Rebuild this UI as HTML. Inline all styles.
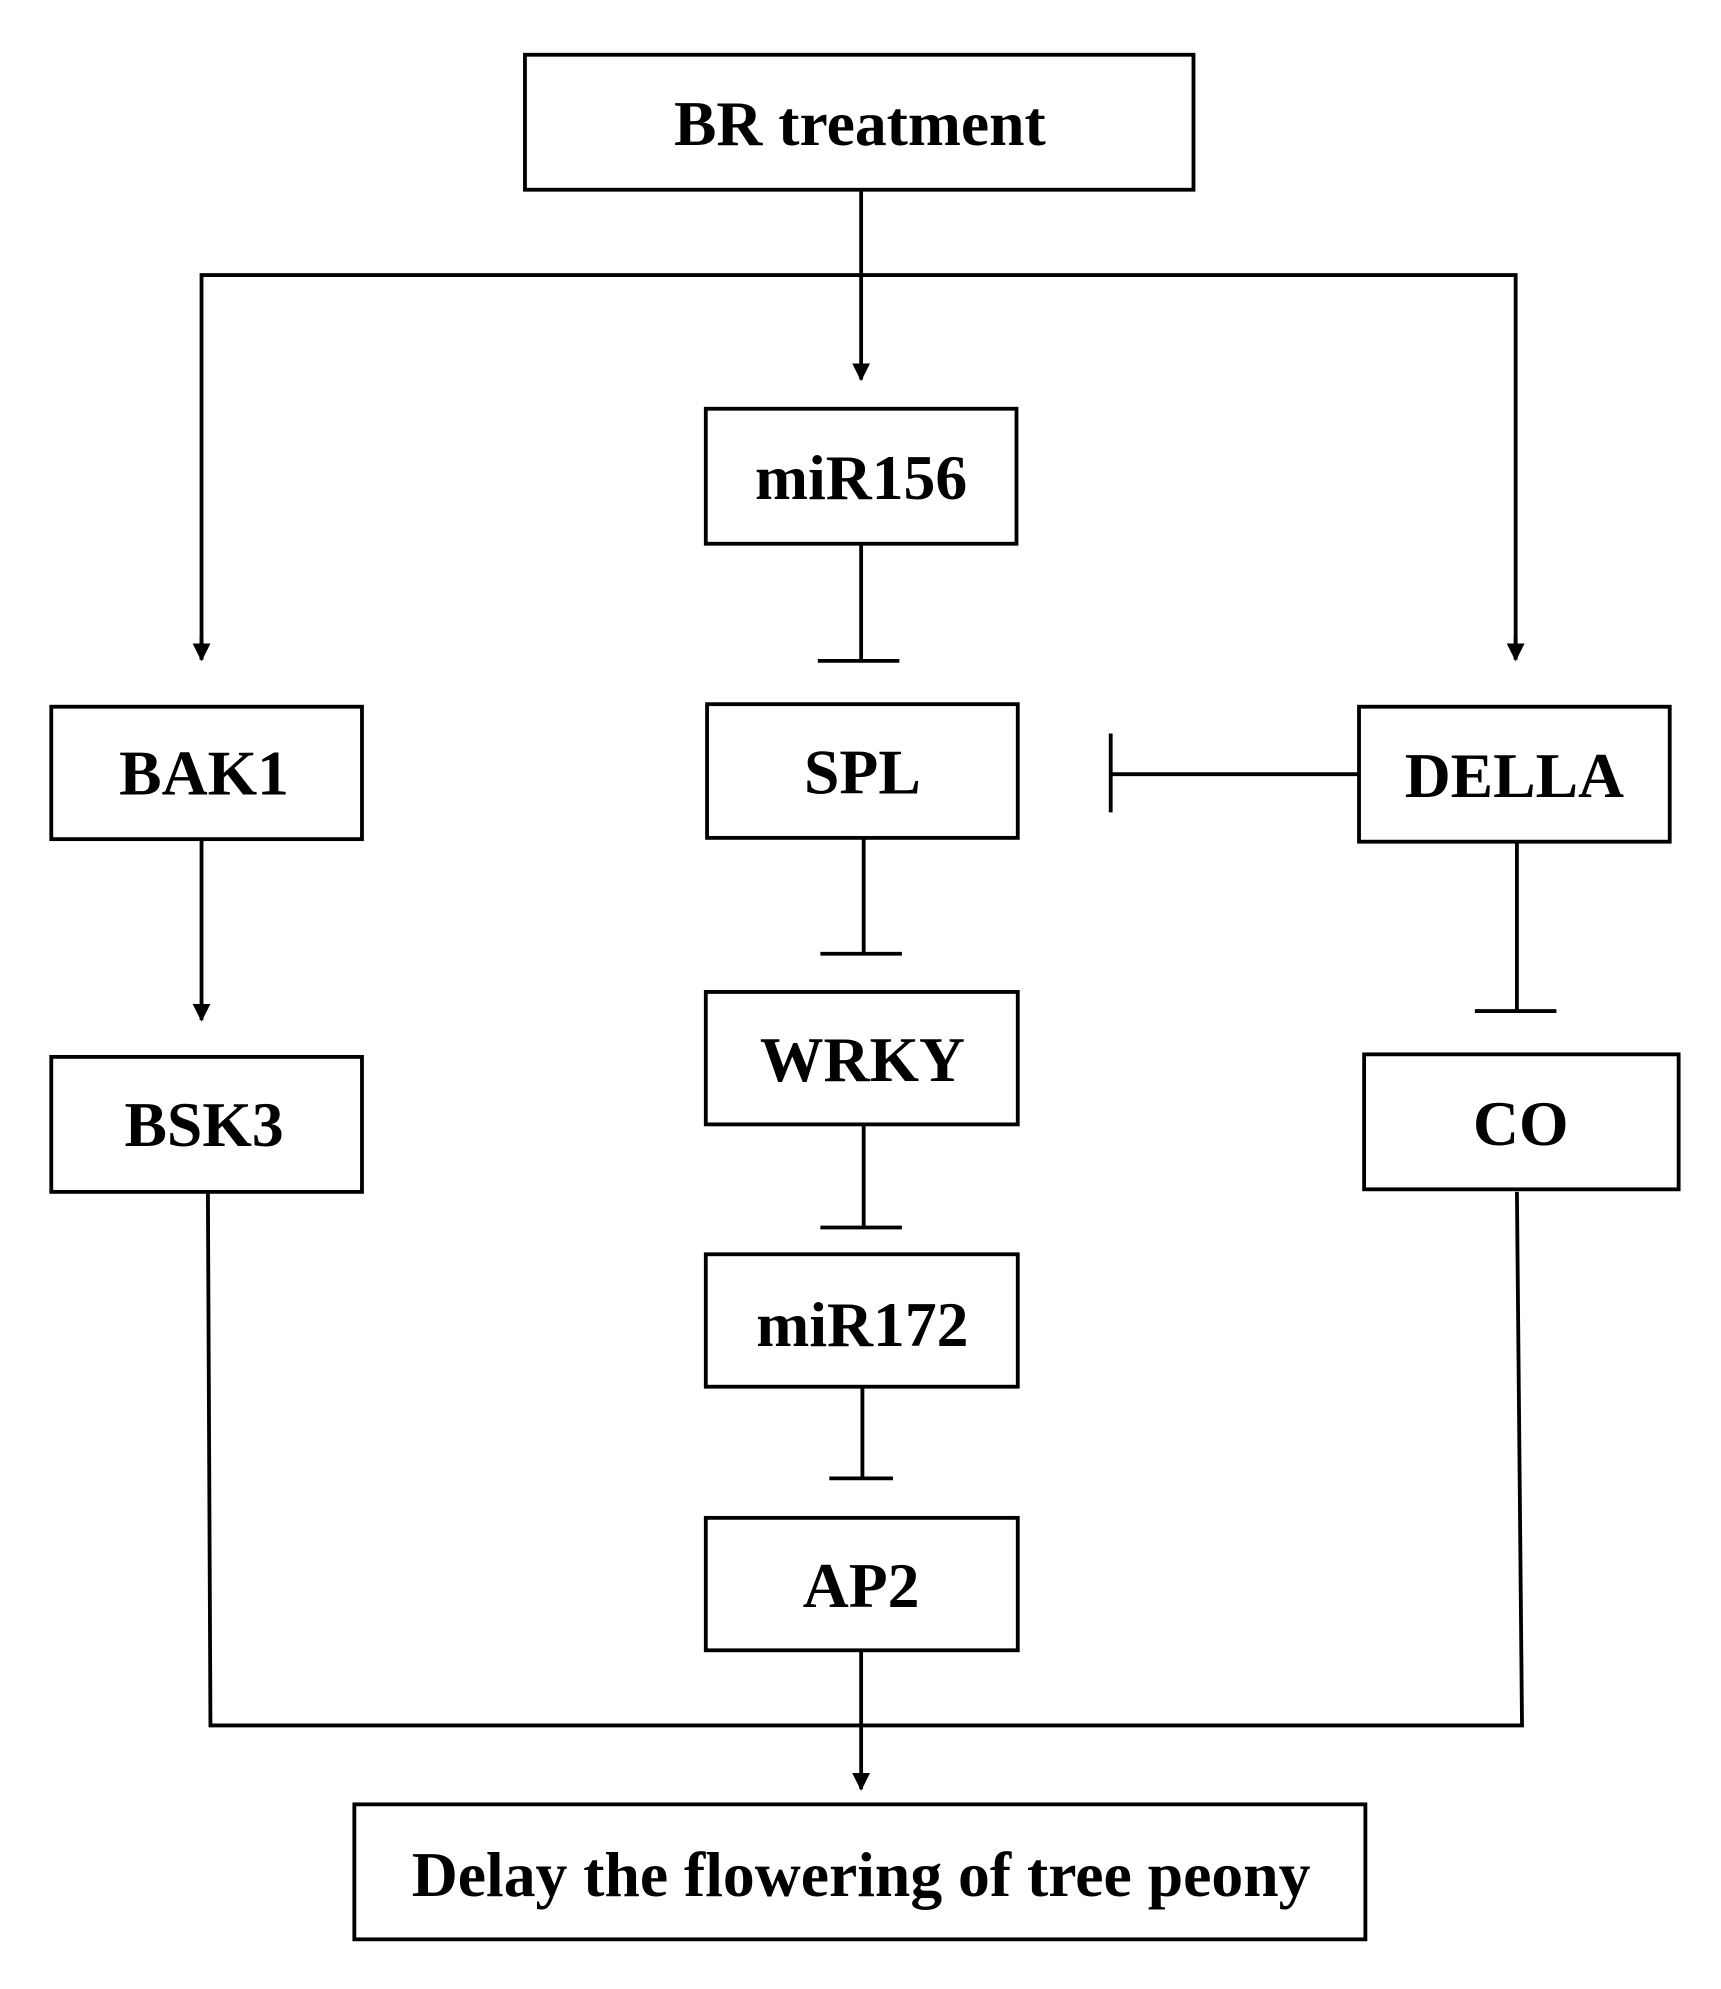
<!DOCTYPE html>
<html><head><style>html,body{margin:0;padding:0;background:#fff}svg{display:block}</style></head>
<body>
<svg width="1721" height="1989" viewBox="0 0 1351 1562" xmlns="http://www.w3.org/2000/svg">
<defs>
<marker id="ar" viewBox="0 0 10 10" refX="9" refY="5" markerWidth="14" markerHeight="17" markerUnits="userSpaceOnUse" orient="auto"><path d="M0,0L10,5L0,10z" fill="#000"/></marker></defs>
<g fill="none" stroke="#000" stroke-width="3">
<rect x="412" y="43" width="525" height="106"/>
<rect x="554" y="321" width="244" height="106"/>
<rect x="555" y="553" width="244" height="105"/>
<rect x="1067" y="555" width="244" height="106"/>
<rect x="40" y="555" width="244" height="104"/>
<rect x="40" y="830" width="244" height="106"/>
<rect x="554" y="779" width="245" height="104"/>
<rect x="554" y="985" width="245" height="104"/>
<rect x="554" y="1192" width="245" height="104"/>
<rect x="1071" y="828" width="247" height="106"/>
<rect x="278" y="1417" width="794" height="106"/>
<path d="M676 149V298" marker-end="url(#ar)"/>
<path d="M158 518V216H1190V518" />
<path d="M158 500V518" marker-end="url(#ar)"/>
<path d="M1190 500V518" marker-end="url(#ar)"/>
<path d="M676 427V519M642 519H706"/>
<path d="M678 658V749M644 749H708"/>
<path d="M678 883V964M644 964H708"/>
<path d="M677 1089V1161M651 1161H701"/>
<path d="M676 1296V1405" marker-end="url(#ar)"/>
<path d="M1067 608H872M872 576V638"/>
<path d="M1191 661V794M1158 794H1222"/>
<path d="M158 659V801" marker-end="url(#ar)"/>
<path d="M163 936L165 1355H1195L1191 936"/>
</g>
<g font-family="Liberation Serif, serif" font-weight="bold" font-size="50" text-anchor="middle" fill="#000">
<text x="675" y="114">BR treatment</text>
<text x="676" y="392">miR156</text>
<text x="677" y="623">SPL</text>
<text x="1189" y="626">DELLA</text>
<text x="160" y="624">BAK1</text>
<text x="160" y="900">BSK3</text>
<text x="677" y="849">WRKY</text>
<text x="677" y="1057">miR172</text>
<text x="676" y="1262">AP2</text>
<text x="1194" y="899">CO</text>
<text x="676" y="1489">Delay the flowering of tree peony</text>
</g>
</svg>
</body></html>
